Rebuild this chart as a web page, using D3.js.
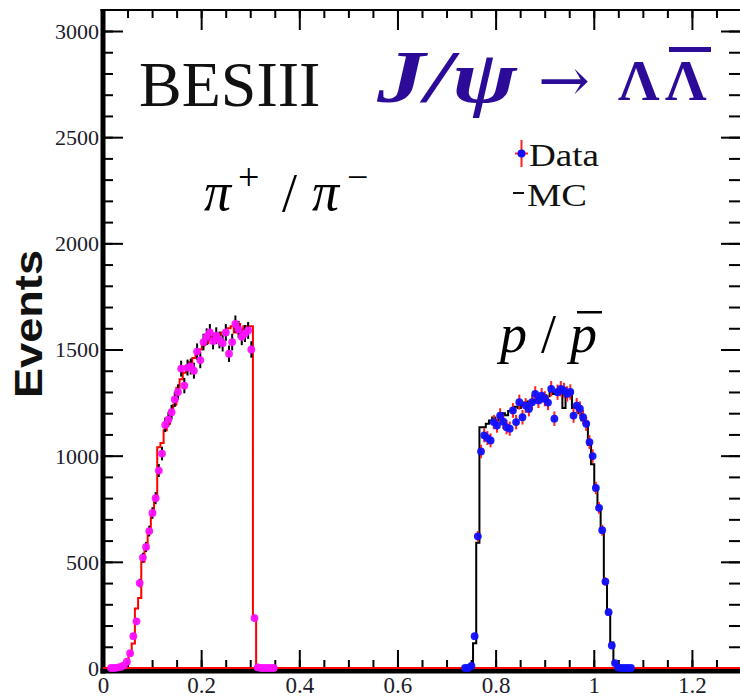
<!DOCTYPE html>
<html><head><meta charset="utf-8">
<script src="https://cdn.jsdelivr.net/npm/d3@7"></script>
<style>body{margin:0;background:#fff}</style>
</head><body><svg id="c" width="740" height="699"></svg>
<script>
// ---- data ----
const binWidth = 0.0065;
const nBins = 200;
const xTicks = [0, 0.2, 0.4, 0.6, 0.8, 1, 1.2];
const xTickLabels = ["0", "0.2", "0.4", "0.6", "0.8", "1", "1.2"];
const yTicks = [0, 500, 1000, 1500, 2000, 2500, 3000];
const yTickLabels = ["0", "500", "1000", "1500", "2000", "2500", "3000"];

// pi+/pi- data (first bin index pionDataStart)
const pionDataStart = 2;
const pionData = [0, 0, 2, 5, 12, 30, 70, 150, 220, 400, 520, 570, 645, 730, 800, 930, 1010, 1145,
  1170, 1205, 1265, 1300, 1410, 1330, 1415, 1420, 1400, 1490, 1450, 1535, 1560, 1580, 1540,
  1565, 1545, 1530, 1580, 1480, 1535, 1620, 1595, 1560, 1575, 1590, 1500, 235, 3, 0, 0, 0, 0, 0];
// pi+/pi- MC
const pionMCStart = 5;
const pionMC = [3, 10, 20, 60, 115, 280, 330, 500, 560, 640, 720, 800, 1040, 1060, 1120, 1150,
  1210, 1240, 1320, 1360, 1390, 1420, 1440, 1460, 1480, 1500, 1520, 1530, 1550, 1560, 1560,
  1570, 1580, 1570, 1600, 1610, 1580, 1620, 1560, 1610, 1610, 1610, 240];
// p/pbar data
const protonDataStart = 113;
const protonData = [0, 0, 10, 150, 620, 1020, 1096, 1083, 1072, 1158, 1142, 1189, 1160, 1134, 1127,
  1213, 1158, 1252, 1181, 1236, 1220, 1252, 1291, 1260, 1283, 1268, 1250, 1315, 1174, 1299, 1315,
  1307, 1291, 1300, 1189, 1236, 1221, 1181, 1150, 1064, 998, 848, 754, 649, 407, 263, 106, 23, 2,
  0, 0, 0, 0];
// p/pbar MC
const protonMCStart = 116;
const protonMC = [117, 590, 1134, 1134, 1150, 1166, 1180, 1166, 1190, 1200, 1190, 1210, 1215, 1230,
  1225, 1240, 1250, 1255, 1250, 1265, 1270, 1275, 1285, 1280, 1300, 1290, 1310, 1300, 1225, 1300,
  1305, 1225, 1230, 1200, 1166, 1160, 1050, 960, 850, 760, 640, 400, 260, 120, 20];

// ---- layout ----
const svg = d3.select("#c");
const X0 = 103, X1 = 741, Y0 = 668, YT = 10;
const x = d3.scaleLinear().domain([0, 1.3]).range([X0, X1]);
const y = d3.scaleLinear().domain([0, 3000]).range([Y0, 31]);

function fullHist(start, vals) {
  const h = new Array(nBins).fill(0);
  vals.forEach((v, i) => { h[start + i] = v; });
  return h;
}
function histPts(h) {
  const pts = [[0, 0]];
  h.forEach((v, i) => { pts.push([i * binWidth, v]); pts.push([(i + 1) * binWidth, v]); });
  return pts;
}
const line = d3.line().x(d => x(d[0])).y(d => y(d[1]));

// frame
svg.append("line").attr("x1", X0 - 2.5).attr("x2", X1).attr("y1", YT).attr("y2", YT)
  .attr("stroke", "#000").attr("stroke-width", 2);
svg.append("line").attr("x1", X1).attr("x2", X1).attr("y1", YT).attr("y2", Y0 + 5)
  .attr("stroke", "#000").attr("stroke-width", 2);

// ticks via axes
function styleAxis(g) {
  g.select(".domain").remove();
  g.selectAll(".tick line").attr("stroke", "#000").attr("stroke-width", 2);
  g.selectAll("text").remove();
}
const xMinor = d3.range(0, 1.3001, 0.05);
const yMinor = d3.range(0, 3101, 100);
svg.append("g").attr("transform", `translate(0,${Y0})`)
  .call(d3.axisTop(x).tickValues(xMinor).tickSize(8)).call(styleAxis);
svg.append("g").attr("transform", `translate(0,${Y0})`)
  .call(d3.axisTop(x).tickValues(xTicks).tickSize(18)).call(styleAxis);
svg.append("g").attr("transform", `translate(0,${YT})`)
  .call(d3.axisBottom(x).tickValues(xMinor).tickSize(8)).call(styleAxis);
svg.append("g").attr("transform", `translate(0,${YT})`)
  .call(d3.axisBottom(x).tickValues(xTicks).tickSize(20)).call(styleAxis);
svg.append("g").attr("transform", `translate(${X0},0)`)
  .call(d3.axisRight(y).tickValues(yMinor.filter(v => y(v) > YT)).tickSize(10)).call(styleAxis);
svg.append("g").attr("transform", `translate(${X0},0)`)
  .call(d3.axisRight(y).tickValues(yTicks).tickSize(20)).call(styleAxis);
svg.append("g").attr("transform", `translate(${X1},0)`)
  .call(d3.axisLeft(y).tickValues(yMinor.filter(v => y(v) > YT)).tickSize(12)).call(styleAxis);
svg.append("g").attr("transform", `translate(${X1},0)`)
  .call(d3.axisLeft(y).tickValues(yTicks).tickSize(20)).call(styleAxis);

// tick labels
const xl = svg.append("g").attr("transform", `translate(0,${Y0})`)
  .call(d3.axisBottom(x).tickValues(xTicks).tickSize(0).tickPadding(0)
    .tickFormat((d, i) => xTickLabels[i]));
xl.select(".domain").remove();
xl.selectAll("text").attr("font-family", "Liberation Serif").attr("font-size", 23)
  .attr("fill", "#1b1b2a").attr("dy", null).attr("y", 25);
const yl = svg.append("g").attr("transform", `translate(${X0 - 4},0)`)
  .call(d3.axisLeft(y).tickValues(yTicks).tickSize(0).tickPadding(0)
    .tickFormat((d, i) => yTickLabels[i]));
yl.select(".domain").remove();
yl.selectAll("text").attr("font-family", "Liberation Serif").attr("font-size", 22)
  .attr("fill", "#1b1b2a").attr("dy", "0.34em");

// histograms
svg.append("path").attr("d", line(histPts(fullHist(protonMCStart, protonMC))))
  .attr("fill", "none").attr("stroke", "#000").attr("stroke-width", 2);
svg.append("path").attr("d", line(histPts(fullHist(pionMCStart, pionMC))))
  .attr("fill", "none").attr("stroke", "#ff0000").attr("stroke-width", 2);

// axes thick lines
svg.append("line").attr("x1", X0).attr("x2", X0).attr("y1", YT - 1).attr("y2", Y0 + 5.5)
  .attr("stroke", "#000").attr("stroke-width", 5);
svg.append("line").attr("x1", X0 - 2.5).attr("x2", X1 + 2).attr("y1", Y0 + 3).attr("y2", Y0 + 3)
  .attr("stroke", "#000").attr("stroke-width", 5);
// red zero line on top of axis
svg.append("line").attr("x1", X0).attr("x2", X1).attr("y1", Y0).attr("y2", Y0)
  .attr("stroke", "#ff0000").attr("stroke-width", 2);

function points(start, vals, dotColor, errColor) {
  const d = vals.map((v, i) => ({ c: (start + i + 0.5) * binWidth, v }));
  const g = svg.append("g");
  g.selectAll("line.e").data(d.filter(p => p.v > 0)).join("line")
    .attr("x1", p => x(p.c)).attr("x2", p => x(p.c))
    .attr("y1", p => y(p.v + Math.sqrt(p.v))).attr("y2", p => y(p.v - Math.sqrt(p.v)))
    .attr("stroke", errColor).attr("stroke-width", 2);
  g.selectAll("circle").data(d).join("circle")
    .attr("cx", p => x(p.c)).attr("cy", p => y(p.v)).attr("r", 3.9)
    .attr("fill", dotColor).attr("opacity", 0.95);
}
points(protonDataStart, protonData, "#1010ff", "#ff2020");
points(pionDataStart, pionData, "#ff10ff", "#000");

// texts
svg.append("text").attr("x", 139).attr("y", 106).attr("font-family", "Liberation Serif")
  .attr("font-size", 64).attr("fill", "#111").text("BESIII");

const tc = "#2b0b98";
svg.append("text").attr("x", 377).attr("y", 102).attr("font-family", "Liberation Serif")
  .attr("font-size", 74).attr("font-weight", "bold").attr("font-style", "italic")
  .attr("textLength", 140).attr("lengthAdjust", "spacingAndGlyphs")
  .attr("fill", tc).text("J/ψ");
svg.append("text").attr("x", 538).attr("y", 101).attr("font-family", "DejaVu Serif")
  .attr("font-size", 60).attr("textLength", 52).attr("lengthAdjust", "spacingAndGlyphs")
  .attr("fill", tc).text("→");
svg.append("text").attr("x", 618).attr("y", 100).attr("font-family", "Liberation Serif")
  .attr("font-size", 58).attr("font-weight", "bold").attr("fill", tc).text("Λ");
svg.append("text").attr("x", 665).attr("y", 100).attr("font-family", "Liberation Serif")
  .attr("font-size", 58).attr("font-weight", "bold").attr("fill", tc).text("Λ");
svg.append("rect").attr("x", 669).attr("y", 47).attr("width", 42).attr("height", 5).attr("fill", tc);

// pi+/pi-
const ff = "Liberation Serif";
function t(xp, yp, s, str, italic) {
  svg.append("text").attr("x", xp).attr("y", yp).attr("font-family", ff).attr("font-size", s)
    .attr("font-style", italic ? "italic" : "normal").attr("fill", "#000").text(str);
}
t(204, 210, 54, "π", true);
t(238, 190, 38, "+", false);
t(282, 211, 54, "/", false);
t(312, 210, 54, "π", true);
t(347, 190, 38, "−", false);
// p/pbar
t(500, 352, 54, "p", true);
t(541, 352, 54, "/", false);
t(570, 352, 54, "p", true);
svg.append("rect").attr("x", 577).attr("y", 311).attr("width", 25).attr("height", 2.5).attr("fill", "#000");

// Events
svg.append("text").attr("transform", "translate(42,324) rotate(-90)").attr("text-anchor", "middle")
  .attr("font-family", "Liberation Sans").attr("font-weight", "bold").attr("font-size", 38)
  .attr("textLength", 148).attr("lengthAdjust", "spacingAndGlyphs")
  .attr("fill", "#111").text("Events");

// legend
svg.append("line").attr("x1", 521.5).attr("x2", 521.5).attr("y1", 140).attr("y2", 167)
  .attr("stroke", "#ff2020").attr("stroke-width", 2);
svg.append("line").attr("x1", 515).attr("x2", 528).attr("y1", 153.5).attr("y2", 153.5)
  .attr("stroke", "#ff2020").attr("stroke-width", 2);
svg.append("circle").attr("cx", 521.5).attr("cy", 153.5).attr("r", 4).attr("fill", "#1010ff");
svg.append("text").attr("x", 529).attr("y", 166).attr("font-family", ff).attr("font-size", 32)
  .attr("textLength", 70).attr("lengthAdjust", "spacingAndGlyphs")
  .attr("fill", "#111").text("Data");
svg.append("line").attr("x1", 513).attr("x2", 524).attr("y1", 193).attr("y2", 193)
  .attr("stroke", "#111").attr("stroke-width", 2);
svg.append("text").attr("x", 527).attr("y", 206).attr("font-family", ff).attr("font-size", 32)
  .attr("textLength", 60).attr("lengthAdjust", "spacingAndGlyphs")
  .attr("fill", "#111").text("MC");
</script></body></html>
